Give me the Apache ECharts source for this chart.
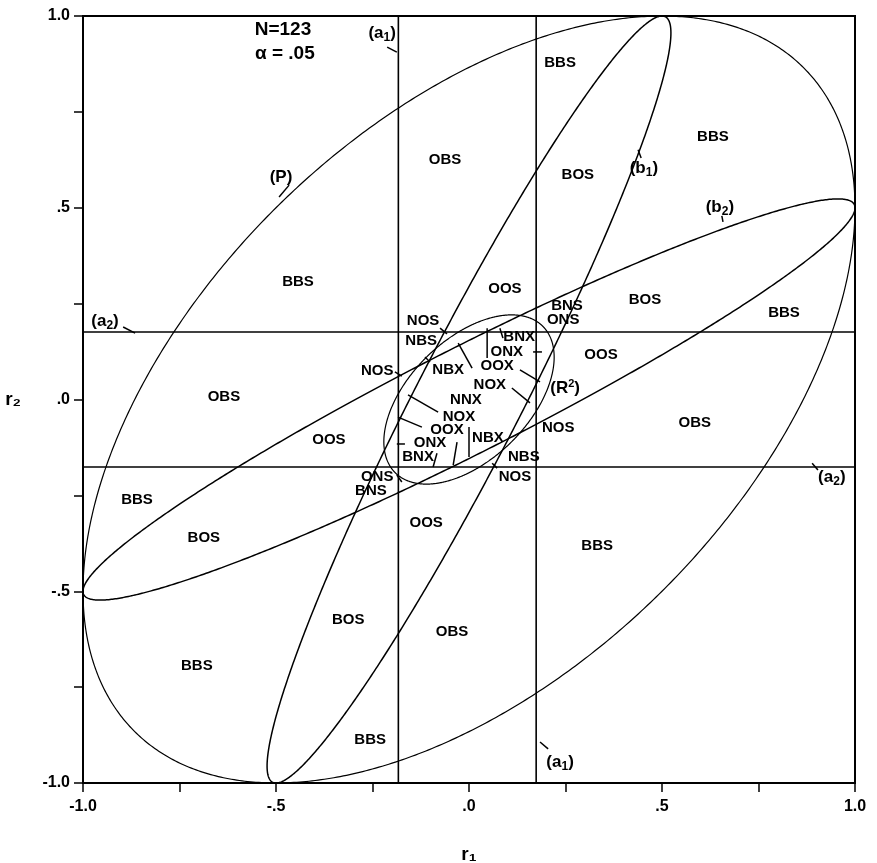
<!DOCTYPE html>
<html><head><meta charset="utf-8">
<script src="https://cdn.jsdelivr.net/npm/echarts@6/dist/echarts.min.js"></script>
<style>html,body{margin:0;padding:0;background:#fff}#c{width:877px;height:863px}</style>
</head><body><div id="c"></div><script>
// ---- boundary ellipses: centre, semi-axes, orientation ----
const ellipseNames  = ['P', 'R2', 'b1', 'b2'];
const ellipseCx     = [0, 0, 0, 0];
const ellipseCy     = [0, 0, 0, 0];
const ellipseMajor  = [1.2247, 0.2702, 1.1202, 1.1202];
const ellipseMinor  = [0.7071, 0.1560, 0.1375, 0.1375];
const ellipseAngle  = [45, 45, 63.0, 27.0];

// ---- critical-value lines ----
const a1Values = [-0.183, 0.174];   // vertical lines (r1)
const a2Values = [-0.176, 0.176];   // horizontal lines (r2)

// ---- region labels ----
const regionText = ['OBS','BBS','BOS','BBS','BBS','OOS','BNS','ONS','BOS','BBS',
  'NOS','NBS','NOS','NBX','BNX','ONX','OOX','NOX','NNX','NOX',
  'OOX','NBX','ONX','BNX','ONS','BNS','OOS','BOS','OBS','BBS',
  'NBS','NOS','NOS','OOS','OBS','OOS','OBS','BBS','BOS','BBS','BBS'];
const regionX = [-0.062,0.236,0.282,0.632,-0.443,0.093,0.254,0.244,0.456,0.816,
  -0.119,-0.124,-0.238,-0.054,0.130,0.098,0.073,0.054,-0.008,-0.026,
  -0.057,0.049,-0.101,-0.132,-0.238,-0.254,-0.111,-0.313,-0.044,-0.256,
  0.142,0.119,0.231,-0.363,-0.635,0.342,0.585,-0.860,-0.687,-0.705,0.332];
const regionY = [0.624,0.877,0.585,0.684,0.306,0.288,0.244,0.207,0.259,0.226,
  0.205,0.153,0.074,0.077,0.163,0.124,0.087,0.038,-0.001,-0.046,
  -0.080,-0.100,-0.113,-0.150,-0.202,-0.239,-0.322,-0.575,-0.606,-0.888,
  -0.150,-0.202,-0.074,-0.106,0.007,0.116,-0.061,-0.262,-0.361,-0.695,-0.382];

// ---- curve / line annotations (rich text: {s|..} subscript, {u|..} superscript) ----
const annText = ['(a{s|1})','(a{s|1})','(a{s|2})','(a{s|2})','(P)','(b{s|1})','(b{s|2})','(R{u|2})'];
const annX = [-0.225, 0.236, -0.943, 0.940, -0.487, 0.453, 0.650, 0.249];
const annY = [0.956, -0.945, 0.205, -0.202, 0.580, 0.604, 0.502, 0.030];

// ---- header text ----
const headerText = ['N=123', '\u03B1 = .05'];
const headerX = [-0.482, -0.477];
const headerY = [0.964, 0.902];

// ---- leader strokes ----
const leaderX1 = [-0.212,0.184,-0.896,0.889,-0.492,0.438,0.655,
  -0.075,-0.192,-0.114,0.080,0.166,0.047,-0.028,0.111,0.132,-0.158,-0.184,0.000,-0.187,-0.083,-0.031,-0.187,0.060];
const leaderY1 = [0.919,-0.893,0.189,-0.166,0.528,0.651,0.479,
  0.186,0.072,0.111,0.186,0.124,0.186,0.147,0.030,0.077,0.012,-0.046,-0.072,-0.116,-0.140,-0.111,-0.197,-0.166];
const leaderX2 = [-0.187,0.205,-0.865,0.904,-0.466,0.446,0.658,
  -0.057,-0.174,-0.101,0.088,0.189,0.047,0.008,0.158,0.184,-0.080,-0.122,0.000,-0.166,-0.093,-0.041,-0.174,0.073];
const leaderY2 = [0.906,-0.911,0.173,-0.184,0.559,0.630,0.463,
  0.171,0.061,0.098,0.160,0.124,0.108,0.082,-0.009,0.046,-0.033,-0.072,-0.150,-0.116,-0.176,-0.171,-0.215,-0.179];

// ---- axis ticks ----
const tickValues = [-1, -0.5, 0, 0.5, 1];
const tickText   = ['-1.0', '-.5', '.0', '.5', '1.0'];

// ================= styling / rendering =================
const ellipseWidth = {P: 1.2, R2: 1.2, b1: 1.5, b2: 1.5};
const FONT = '"Liberation Sans", Arial, sans-serif';
const annRich = {
  s: {font: 'bold 12px ' + FONT, padding: [9, 0, 0, 0], fill: '#000'},
  u: {font: 'bold 11px ' + FONT, padding: [0, 0, 8, 0], fill: '#000'}
};

function tickFmt(v) {
  for (let i = 0; i < tickValues.length; i++) if (Math.abs(v - tickValues[i]) < 1e-6) return tickText[i];
  return '';
}

function textSeries(xs, ys, texts, font, rich) {
  return {
    type: 'custom', coordinateSystem: 'cartesian2d', clip: false, silent: true,
    data: xs.map((x, i) => [x, ys[i], i]),
    encode: {x: 0, y: 1},
    renderItem(params, api) {
      const p = api.coord([api.value(0), api.value(1)]);
      const style = {text: texts[api.value(2)], align: 'center', verticalAlign: 'middle', font: font, fill: '#000'};
      if (rich) style.rich = rich;
      return {type: 'text', x: p[0], y: p[1], style: style};
    }
  };
}

function segSeries(x1, y1, x2, y2, width) {
  return {
    type: 'custom', coordinateSystem: 'cartesian2d', clip: false, silent: true,
    data: x1.map((v, i) => [v, y1[i], x2[i], y2[i]]),
    encode: {x: [0, 2], y: [1, 3]},
    renderItem(params, api) {
      const a = api.coord([api.value(0), api.value(1)]);
      const b = api.coord([api.value(2), api.value(3)]);
      return {type: 'line', shape: {x1: a[0], y1: a[1], x2: b[0], y2: b[1]},
        style: {stroke: '#000', lineWidth: width}};
    }
  };
}

// critical lines built from a1/a2 values
const refX1 = [], refY1 = [], refX2 = [], refY2 = [];
a1Values.forEach(v => { refX1.push(v); refY1.push(-1); refX2.push(v); refY2.push(1); });
a2Values.forEach(v => { refX1.push(-1); refY1.push(v); refX2.push(1); refY2.push(v); });

const ellipseSeries = {
  type: 'custom', coordinateSystem: 'cartesian2d', clip: false, silent: true,
  data: ellipseNames.map((n, i) => [ellipseCx[i], ellipseCy[i], ellipseMajor[i], ellipseMinor[i], ellipseAngle[i], i]),
  encode: {x: 0, y: 1},
  renderItem(params, api) {
    const cx = api.value(0), cy = api.value(1), A = api.value(2), B = api.value(3);
    const ang = api.value(4) * Math.PI / 180, idx = api.value(5);
    const pts = [];
    for (let k = 0; k <= 720; k++) {
      const t = k / 720 * 2 * Math.PI;
      const ex = A * Math.cos(t), ey = B * Math.sin(t);
      pts.push(api.coord([cx + ex * Math.cos(ang) - ey * Math.sin(ang), cy + ex * Math.sin(ang) + ey * Math.cos(ang)]));
    }
    return {type: 'polyline', shape: {points: pts},
      style: {stroke: '#000', fill: null, lineWidth: ellipseWidth[ellipseNames[idx]]}};
  }
};

const chart = echarts.init(document.getElementById('c'), null, {renderer: 'canvas'});
const axisCommon = {
  min: -1, max: 1, interval: 0.25,
  axisLine: {onZero: false, lineStyle: {color: '#000', width: 2}},
  axisTick: {inside: false, length: 9, lineStyle: {color: '#000', width: 1.5}},
  splitLine: {show: false},
  axisLabel: {formatter: tickFmt, color: '#000', fontFamily: FONT, fontWeight: 'bold', fontSize: 16, showMinLabel: true, showMaxLabel: true}
};
chart.setOption({
  animation: false,
  backgroundColor: '#fff',
  grid: {left: 83, right: 22, top: 16, bottom: 80, outerBoundsMode: 'none', containLabel: false,
    show: true, borderColor: '#000', borderWidth: 2, backgroundColor: 'transparent'},
  xAxis: Object.assign({}, axisCommon, {
    type: 'value', position: 'bottom',
    axisLabel: Object.assign({}, axisCommon.axisLabel, {margin: 16}),
    name: 'r\u2081', nameLocation: 'middle', nameGap: 62,
    nameTextStyle: {fontFamily: FONT, fontSize: 19, fontWeight: 'bold', color: '#000'}
  }),
  yAxis: Object.assign({}, axisCommon, {
    type: 'value', position: 'left',
    axisLabel: Object.assign({}, axisCommon.axisLabel, {margin: 13}),
    name: 'r\u2082', nameLocation: 'middle', nameGap: 62, nameRotate: 0,
    nameTextStyle: {fontFamily: FONT, fontSize: 19, fontWeight: 'bold', color: '#000'}
  }),
  series: [
    segSeries(refX1, refY1, refX2, refY2, 1.6),
    ellipseSeries,
    segSeries(leaderX1, leaderY1, leaderX2, leaderY2, 1.5),
    textSeries(regionX, regionY, regionText, 'bold 15px ' + FONT),
    textSeries(annX, annY, annText, 'bold 17px ' + FONT, annRich),
    textSeries(headerX, headerY, headerText, 'bold 19px ' + FONT)
  ]
});
</script></body></html>
